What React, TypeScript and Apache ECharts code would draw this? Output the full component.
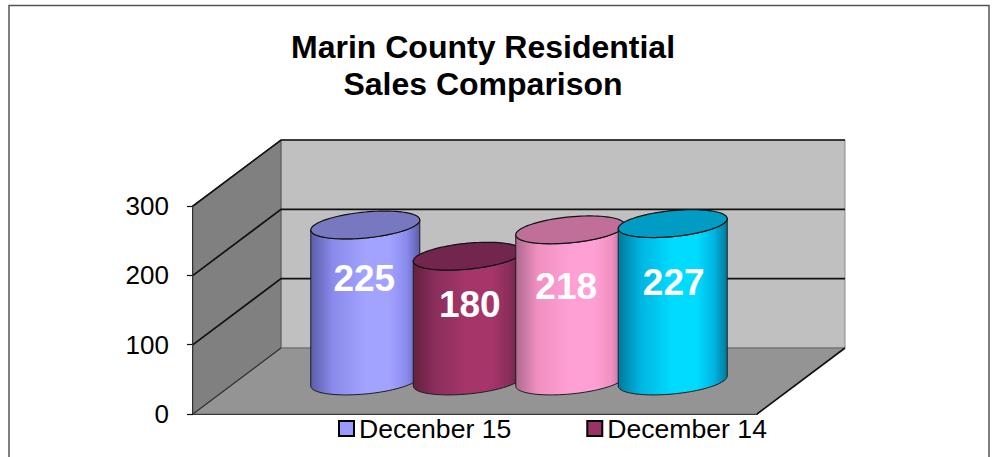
import React, { useEffect, useRef } from "react";
import * as echarts from "echarts";

const titleLines = ["Marin County Residential", "Sales Comparison"];
const categories = [""];
const seriesNames = ["Decenber 15", "December 14", "Series 3", "Series 4"];
const seriesValues = [225, 180, 218, 227];
const legendNames = ["Decenber 15", "December 14"];
const yTicks = [0, 100, 200, 300];

const baseColors = ["#9999ff", "#993366", "#ff99cc", "#00ccff"];
const topColors = ["#7878c0", "#72264e", "#c07098", "#009cc4"];
const edgeColors = ["#5a5ea8", "#64203f", "#ac6a90", "#00799c"];
const midColors = ["#8a8aec", "#8a2e5c", "#f090c0", "#00b4e0"];
const lightColors = ["#a2a2ff", "#a63669", "#ffa0d4", "#00dcff"];
const labelDrops = [53, 48, 57, 59];
const labelShifts = [-1, 2, -4, 1];

const DEPTH_X = 88;
const DEPTH_Y = -66;
const STEP_FRACTION = 0.1817;
const RADIUS_X = 54.5;
const RADIUS_Y = 13;
const TILT = 5;
const FONT = '"Liberation Sans", Arial, sans-serif';

function ellipsePoint(cx: number, cy: number, t: number): number[] {
  return [cx + RADIUS_X * Math.cos(t), cy - TILT * Math.cos(t) + RADIUS_Y * Math.sin(t)];
}

function renderWalls(params: any, api: any) {
  const g = params.coordSys;
  const x0 = g.x;
  const x1 = g.x + g.width;
  const yBase = api.coord([0, 0])[1];
  const yTop = api.coord([0, yTicks[yTicks.length - 1]])[1];
  const stroke = "#111111";
  const children: any[] = [
    {
      type: "polygon",
      shape: { points: [[x0 + DEPTH_X, yTop + DEPTH_Y], [x1 + DEPTH_X, yTop + DEPTH_Y], [x1 + DEPTH_X, yBase + DEPTH_Y], [x0 + DEPTH_X, yBase + DEPTH_Y]] },
      style: { fill: "#c0c0c0", stroke: "#8a8a8a", lineWidth: 1 },
    },
    {
      type: "polygon",
      shape: { points: [[x0, yTop], [x0 + DEPTH_X, yTop + DEPTH_Y], [x0 + DEPTH_X, yBase + DEPTH_Y], [x0, yBase]] },
      style: { fill: "#808080", stroke: "#555555", lineWidth: 1 },
    },
    {
      type: "polygon",
      shape: { points: [[x0, yBase], [x0 + DEPTH_X, yBase + DEPTH_Y], [x1 + DEPTH_X, yBase + DEPTH_Y], [x1, yBase]] },
      style: { fill: "#949494", stroke: "#666666", lineWidth: 1 },
    },
    {
      type: "line",
      shape: { x1: x1, y1: yBase, x2: x1 + DEPTH_X, y2: yBase + DEPTH_Y },
      style: { stroke, lineWidth: 1.6 },
    },
    {
      type: "line",
      shape: { x1: x0, y1: yBase, x2: x0 + DEPTH_X, y2: yBase + DEPTH_Y },
      style: { stroke: "#333333", lineWidth: 1.2 },
    },
  ];
  yTicks.slice(1).forEach((t) => {
    const y = api.coord([0, t])[1];
    children.push({
      type: "polyline",
      shape: { points: [[x0, y], [x0 + DEPTH_X, y + DEPTH_Y], [x1 + DEPTH_X, y + DEPTH_Y]] },
      style: { stroke, lineWidth: 1.7, fill: "none" },
    });
  });
  return { type: "group", children };
}

function renderCylinder(params: any, api: any) {
  const i = params.seriesIndex - 1;
  const center = api.coord([0, 0]);
  const band = api.size([1, 0])[0];
  const value = api.value(1);
  const cx = center[0] + (i - 1.5) * band * STEP_FRACTION + DEPTH_X / 2;
  const yBottom = center[1] + DEPTH_Y / 2;
  const yTop = api.coord([0, value])[1] + DEPTH_Y / 2;
  const N = 48;
  const bodyPoints: number[][] = [];
  for (let k = 0; k <= N; k++) bodyPoints.push(ellipsePoint(cx, yBottom, (Math.PI * k) / N));
  for (let k = 0; k <= N; k++) bodyPoints.push(ellipsePoint(cx, yTop, Math.PI - (Math.PI * k) / N));
  const topPoints: number[][] = [];
  for (let k = 0; k < N * 2; k++) topPoints.push(ellipsePoint(cx, yTop, (Math.PI * k) / N));
  const gradient = new echarts.graphic.LinearGradient(0, 0, 1, 0, [
    { offset: 0, color: edgeColors[i] },
    { offset: 0.2, color: midColors[i] },
    { offset: 0.5, color: lightColors[i] },
    { offset: 0.72, color: lightColors[i] },
    { offset: 0.88, color: midColors[i] },
    { offset: 1, color: edgeColors[i] },
  ]);
  return {
    type: "group",
    children: [
      { type: "polygon", shape: { points: bodyPoints }, style: { fill: gradient, stroke: "#1c1c1c", lineWidth: 1 } },
      { type: "polygon", shape: { points: topPoints }, style: { fill: topColors[i], stroke: "#111111", lineWidth: 1.2 } },
      {
        type: "text",
        style: {
          text: String(value),
          x: cx + labelShifts[i],
          y: yTop + labelDrops[i],
          fill: "#ffffff",
          fontSize: 37,
          fontWeight: "bold",
          fontFamily: FONT,
          align: "center",
          verticalAlign: "middle",
        },
      },
    ],
  };
}

export default function App() {
  const ref = useRef<HTMLDivElement>(null);
  useEffect(() => {
    const chart = echarts.init(ref.current!, null, { renderer: "svg" });
    chart.setOption({
      animation: false,
      backgroundColor: "#ffffff",
      title: {
        text: titleLines.join("\n"),
        left: 478,
        top: 23,
        textAlign: "center",
        textStyle: { fontFamily: FONT, fontSize: 32, fontWeight: "bold", color: "#000000", lineHeight: 37 },
      },
      graphic: [
        {
          type: "rect",
          silent: true,
          z: -1,
          shape: { x: 9, y: 5.5, width: 980, height: 470 },
          style: { fill: "none", stroke: "#555555", lineWidth: 1.5 },
        },
      ],
      legend: {
        data: legendNames.map((name) => ({
          name,
          icon: "rect",
          itemStyle: { color: baseColors[seriesNames.indexOf(name)], borderColor: "#000000", borderWidth: 2 },
        })),
        left: 338,
        top: 415,
        itemWidth: 15,
        itemHeight: 15,
        itemGap: 75,
        padding: 0,
        selectedMode: false,
        textStyle: { fontFamily: FONT, fontSize: 26.6, color: "#000000", padding: [0, 0, 0, 0] },
      },
      grid: { left: 193, right: 236, top: 206, bottom: 43 },
      xAxis: {
        type: "category",
        data: categories,
        axisLine: { show: true, lineStyle: { color: "#111111", width: 2 } },
        axisTick: { show: false },
        axisLabel: { show: false },
      },
      yAxis: {
        type: "value",
        min: 0,
        max: 300,
        interval: 100,
        splitLine: { show: false },
        axisLine: { show: true, lineStyle: { color: "#111111", width: 2 } },
        axisTick: { show: true, length: 6, lineStyle: { color: "#111111", width: 1.2 } },
        axisLabel: { fontFamily: FONT, fontSize: 26, color: "#000000", margin: 24 },
      },
      series: [
        { name: "walls", type: "custom", silent: true, data: [[0, 0]], renderItem: renderWalls },
        ...seriesNames.map((name, i) => ({
          name,
          type: "custom",
          silent: true,
          itemStyle: { color: baseColors[i] },
          encode: { x: 0, y: 1 },
          data: [[0, seriesValues[i]]],
          renderItem: renderCylinder,
        })),
      ],
    });
    return () => chart.dispose();
  }, []);
  return <div ref={ref} style={{ position: "fixed", left: 0, top: 0, width: 993, height: 457 }} />;
}
